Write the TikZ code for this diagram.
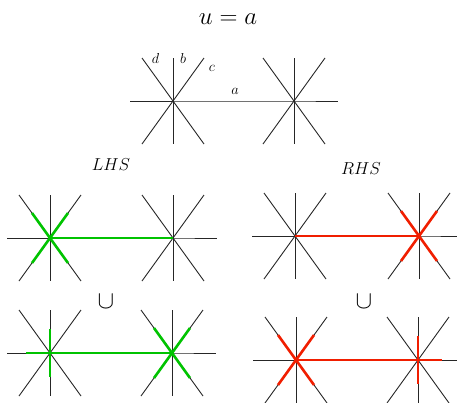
\documentclass[tikz,border=0pt]{standalone}
\usepackage{amsmath,amssymb}
\usepackage{tikz}
\definecolor{hlgreen}{RGB}{0,195,0}
\definecolor{hlred}{RGB}{240,30,0}
% the three lines through one vertex
\newcommand{\vstar}[1]{%
  \draw[ln] (#1) ++(-31,-43) -- ++(62,86);
  \draw[ln] (#1) ++(31,-43) -- ++(-62,86);
  \draw[ln] (#1) ++(0,-43) -- ++(0,86);}
% two vertices joined by the edge a
\newcommand{\vpair}[2]{%
  \draw[ln] (#1) -- ++(-43,0) (#1) -- (#2) -- ++(44,0);
  \vstar{#1}\vstar{#2}}

\begin{document}
\begin{tikzpicture}[x=1pt, y=-1pt,
  ln/.style={black!85, line width=0.9pt},
  hlg/.style={hlgreen, line width=2.6pt},
  hlr/.style={hlred, line width=2.6pt},
  lbl/.style={inner sep=0pt, font=\Large},
  side/.style={inner sep=0pt, font=\LARGE}]
\useasboundingbox (0,0) rectangle (457,402);

\node[inner sep=0pt, font=\Huge] (title) at (228,19) {$u=a$};

% top graph
\coordinate (t1) at (173,101);
\coordinate (t2) at (294,101);
\vpair{t1}{t2}
\node[lbl] (ld) at (155.5,58) {$d$};
\node[lbl] (lb) at (183,58) {$b$};
\node[lbl] (lc) at (212,68.5) {$c$};
\node[lbl] (la) at (235,91) {$a$};

\node[side] (lhs) at (111,165) {$LHS$};
\node[side] (rhs) at (361,169) {$RHS$};

% LHS, first term
\coordinate (p1) at (50,238);
\coordinate (p2) at (173,238);
\vpair{p1}{p2}
\draw[hlg] (p1) -- (p2);
\draw[hlg] (p1) ++(-18,-25) -- ++(36,50);
\draw[hlg] (p1) ++(18,-25) -- ++(-36,50);

% RHS, first term
\coordinate (q1) at (295,236);
\coordinate (q2) at (419,236);
\vpair{q1}{q2}
\draw[hlr] (q1) -- (q2);
\draw[hlr] (q2) ++(-18,-25) -- ++(36,50);
\draw[hlr] (q2) ++(18,-25) -- ++(-36,50);

\node[inner sep=0pt, font=\Huge] (cupl) at (106,302) {$\cup$};
\node[inner sep=0pt, font=\Huge] (cupr) at (364,302) {$\cup$};

% LHS, second term
\coordinate (r1) at (50,353);
\coordinate (r2) at (172,353);
\vpair{r1}{r2}
\draw[hlg] (r1) -- ++(-24,0) (r1) -- (r2);
\draw[hlg] (r1) ++(0,-24) -- ++(0,48);
\draw[hlg] (r2) ++(-18,-25) -- ++(36,50);
\draw[hlg] (r2) ++(18,-25) -- ++(-36,50);

% RHS, second term
\coordinate (s1) at (296,360);
\coordinate (s2) at (418,360);
\vpair{s1}{s2}
\draw[hlr] (s1) -- (s2) -- ++(24,0);
\draw[hlr] (s1) ++(-18,-25) -- ++(36,50);
\draw[hlr] (s1) ++(18,-25) -- ++(-36,50);
\draw[hlr] (s2) ++(0,-24) -- ++(0,48);
\end{tikzpicture}
\end{document}
